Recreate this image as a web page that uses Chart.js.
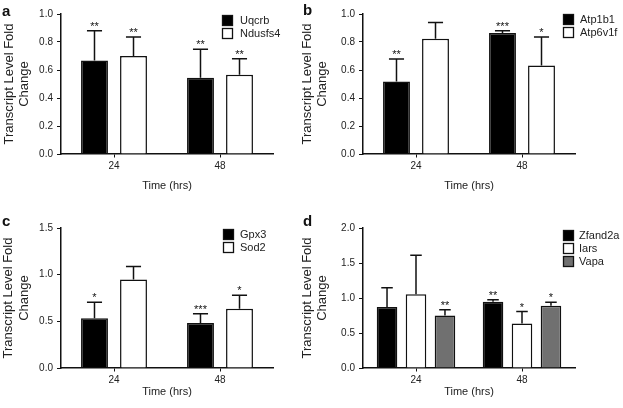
<!DOCTYPE html>
<html>
<head>
<meta charset="utf-8">
<script src="https://cdn.jsdelivr.net/npm/chart.js@4.4.1/dist/chart.umd.min.js"></script>
<style>
  html, body { margin: 0; padding: 0; background: #fff; }
  #fig { position: relative; width: 623px; height: 408px; overflow: hidden; }
  canvas { position: absolute; }
  .tag { position: absolute; font: bold 15px 'Liberation Sans', Arial, sans-serif; color: #111; line-height: 15px; }
</style>
</head>
<body>
<div id="fig">
  <canvas id="chartA" width="295" height="204" style="left:0;top:0"></canvas>
  <canvas id="chartB" width="328" height="204" style="left:295px;top:0"></canvas>
  <canvas id="chartC" width="295" height="204" style="left:0;top:204px"></canvas>
  <canvas id="chartD" width="328" height="204" style="left:295px;top:204px"></canvas>
  <div class="tag" style="left:2px;top:3px">a</div>
  <div class="tag" style="left:303px;top:2px">b</div>
  <div class="tag" style="left:2px;top:213px">c</div>
  <div class="tag" style="left:303px;top:213px">d</div>
</div>
<script>
// dados
const tempos = ['24', '48'];

const uqcrb = [0.667, 0.545];
const uqcrbErr = [0.213, 0.203];
const uqcrbSig = ['**', '**'];
const ndusfs4 = [0.700, 0.566];
const ndusfs4Err = [0.136, 0.114];
const ndusfs4Sig = ['**', '**'];

const atp1b1 = [0.518, 0.864];
const atp1b1Err = [0.160, 0.017];
const atp1b1Sig = ['**', '***'];
const atp6v1f = [0.823, 0.632];
const atp6v1fErr = [0.117, 0.203];
const atp6v1fSig = ['', '*'];

const gpx3 = [0.533, 0.483];
const gpx3Err = [0.172, 0.097];
const gpx3Sig = ['*', '***'];
const sod2 = [0.949, 0.634];
const sod2Err = [0.139, 0.146];
const sod2Sig = ['', '*'];

const zfand2a = [0.873, 0.945];
const zfand2aErr = [0.273, 0.029];
const zfand2aSig = ['', '**'];
const iars = [1.055, 0.635];
const iarsErr = [0.554, 0.172];
const iarsSig = ['', '*'];
const vapa = [0.749, 0.888];
const vapaErr = [0.082, 0.052];
const vapaSig = ['**', '*'];

const ticksAB = [0, 0.2, 0.4, 0.6, 0.8, 1.0];
const ticksC = [0, 0.5, 1.0, 1.5];
const ticksD = [0, 0.5, 1.0, 1.5, 2.0];

const FONTE = "'Liberation Sans', Arial, sans-serif";
Chart.defaults.font.family = FONTE;
Chart.defaults.color = '#222';

const errorBars = {
    id: 'errorBars',
    afterDatasetsDraw(chart) {
        const ctx = chart.ctx;
        const y = chart.scales.y;
        chart.data.datasets.forEach((ds, i) => {
            chart.getDatasetMeta(i).data.forEach((bar, j) => {
                const topo = y.getPixelForValue(ds.data[j] + ds.erros[j]);
                const meio = bar.width * 0.28;
                ctx.save();
                ctx.strokeStyle = '#111';
                ctx.lineWidth = 1.5;
                ctx.beginPath();
                ctx.moveTo(bar.x, bar.y);
                ctx.lineTo(bar.x, topo);
                ctx.moveTo(bar.x - meio, topo);
                ctx.lineTo(bar.x + meio, topo);
                ctx.stroke();
                if (ds.sig[j]) {
                    ctx.fillStyle = '#111';
                    ctx.font = '11px ' + FONTE;
                    ctx.textAlign = 'center';
                    ctx.textBaseline = 'alphabetic';
                    ctx.fillText(ds.sig[j], bar.x, topo - 1);
                }
                ctx.restore();
            });
        });
    }
};

const boxLegend = {
    id: 'boxLegend',
    afterDraw(chart, args, opts) {
        const ctx = chart.ctx;
        const area = chart.chartArea;
        const x = area.right + opts.dx;
        const y0 = area.top + opts.dy;
        ctx.save();
        chart.data.datasets.forEach((ds, i) => {
            const y = y0 + i * 13;
            ctx.fillStyle = ds.backgroundColor;
            ctx.fillRect(x, y, 11, 11);
            ctx.strokeStyle = '#111';
            ctx.lineWidth = 1.3;
            ctx.strokeRect(x + 0.5, y + 0.5, 10, 10);
            ctx.fillStyle = '#222';
            ctx.font = '11px ' + FONTE;
            ctx.textAlign = 'left';
            ctx.textBaseline = 'middle';
            ctx.fillText(ds.label, x + opts.gap, y + 6);
        });
        ctx.restore();
    }
};

function serie(label, valores, erros, sig, cor) {
    return {
        label: label,
        data: valores,
        erros: erros,
        sig: sig,
        backgroundColor: cor,
        borderColor: '#111',
        borderWidth: 1.5
    };
}

function criarGrafico(id, series, ticks, area, cfg) {
    const canvas = document.getElementById(id);
    const W = canvas.width, H = canvas.height;
    return new Chart(canvas, {
        type: 'bar',
        data: { labels: tempos, datasets: series },
        options: {
            responsive: false,
            animation: false,
            devicePixelRatio: 1,
            categoryPercentage: cfg.cat,
            barPercentage: cfg.bar,
            layout: { padding: { left: 0, top: area.top, right: W - area.right, bottom: 0 } },
            plugins: {
                legend: { display: false },
                tooltip: { enabled: false },
                boxLegend: { dx: cfg.legX, dy: cfg.legY, gap: cfg.legGap }
            },
            scales: {
                x: {
                    grid: { display: true, drawOnChartArea: false, offset: false, color: '#111', lineWidth: 1, tickLength: 3.5 },
                    border: { display: true, color: '#111', width: 1.5 },
                    ticks: { font: { size: 10 }, padding: 3 },
                    title: { display: true, text: 'Time (hrs)', font: { size: 11 }, padding: { top: 0, bottom: cfg.xTitlePad } },
                    afterFit: s => { s.height = H - area.bottom; }
                },
                y: {
                    min: ticks[0],
                    max: ticks[ticks.length - 1],
                    afterBuildTicks: s => { s.ticks = ticks.map(v => ({ value: v })); },
                    grid: { display: true, drawOnChartArea: false, color: '#111', lineWidth: 1, tickLength: 4 },
                    border: { display: true, color: '#111', width: 1.5 },
                    ticks: { font: { size: 10 }, padding: 4, callback: v => Number(v).toFixed(1) },
                    title: {
                        display: true,
                        text: ['Transcript Level Fold', 'Change'],
                        font: { size: 13, lineHeight: 1.18 },
                        padding: { top: cfg.yTitlePad, bottom: 0 }
                    },
                    afterFit: s => { s.width = area.left; }
                }
            }
        },
        plugins: [errorBars, boxLegend]
    });
}

criarGrafico('chartA', [
    serie('Uqcrb', uqcrb, uqcrbErr, uqcrbSig, '#000000'),
    serie('Ndusfs4', ndusfs4, ndusfs4Err, ndusfs4Sig, '#ffffff')
], ticksAB, { left: 61, top: 14, right: 273, bottom: 154 },
   { cat: 0.736, bar: 0.69, legX: -51, legY: 1, legGap: 18, xTitlePad: 11.5, yTitlePad: 1.5 });

criarGrafico('chartB', [
    serie('Atp1b1', atp1b1, atp1b1Err, atp1b1Sig, '#000000'),
    serie('Atp6v1f', atp6v1f, atp6v1fErr, atp6v1fSig, '#ffffff')
], ticksAB, { left: 68, top: 14, right: 280, bottom: 154 },
   { cat: 0.736, bar: 0.69, legX: -12, legY: 0, legGap: 17, xTitlePad: 11.5, yTitlePad: 4.5 });

criarGrafico('chartC', [
    serie('Gpx3', gpx3, gpx3Err, gpx3Sig, '#000000'),
    serie('Sod2', sod2, sod2Err, sod2Sig, '#ffffff')
], ticksC, { left: 61, top: 24, right: 273, bottom: 164 },
   { cat: 0.736, bar: 0.69, legX: -50, legY: 1, legGap: 17, xTitlePad: 9, yTitlePad: 1 });

criarGrafico('chartD', [
    serie('Zfand2a', zfand2a, zfand2aErr, zfand2aSig, '#000000'),
    serie('Iars', iars, iarsErr, iarsSig, '#ffffff'),
    serie('Vapa', vapa, vapaErr, vapaSig, '#707070')
], ticksD, { left: 68, top: 24, right: 280, bottom: 164 },
   { cat: 0.82, bar: 0.71, legX: -12, legY: 2, legGap: 16, xTitlePad: 9, yTitlePad: 4.5 });
</script>
</body>
</html>
